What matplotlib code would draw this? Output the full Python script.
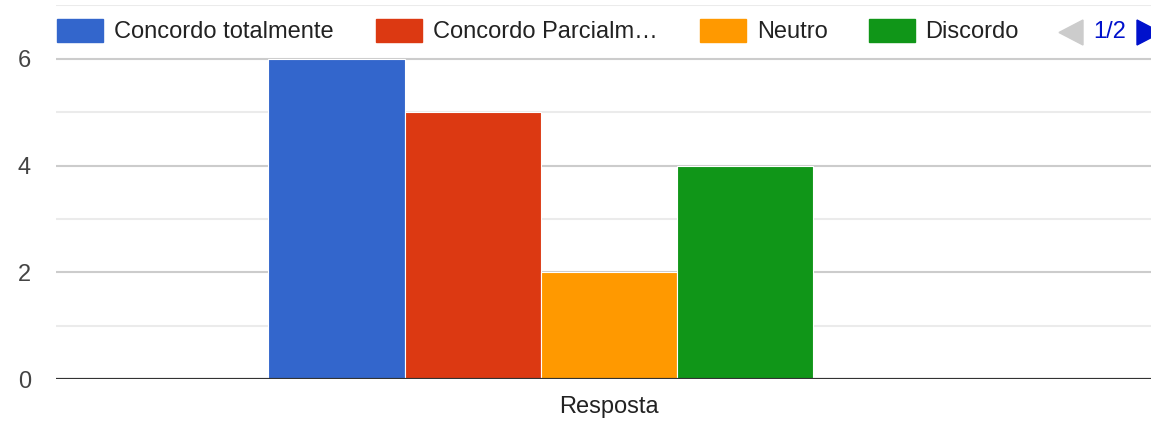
import matplotlib.pyplot as plt
from matplotlib.patches import Rectangle, Polygon

plt.rcParams['font.family'] = ['Liberation Sans', 'DejaVu Sans']

# data
category = ['Resposta']
series = ['Concordo totalmente', 'Concordo Parcialmente', 'Neutro', 'Discordo', 'Discordo totalmente']
values = [6, 5, 2, 4, 0]
colors = ['#3366cc', '#dc3912', '#ff9900', '#109618', '#990099']
legend_labels = ['Concordo totalmente', 'Concordo Parcialm\u2026', 'Neutro', 'Discordo']

fig = plt.figure(figsize=(11.51, 4.24), dpi=100)
ax = fig.add_axes([56 / 1151, 1 - 379.3 / 424, 1 - 56 / 1151, (379.3 - 5.3) / 424])

w = 0.1244
n = len(series)
for i, (s, v, c) in enumerate(zip(series, values, colors)):
    ax.bar(0 + (i - (n - 1) / 2) * w, v, width=w, color=c, edgecolor='white',
           linewidth=0.8, zorder=3)

ax.set_xlim(-0.505, 0.495)
ax.set_ylim(0, 7)

# gridlines
for y in range(1, 8):
    col = '#cccccc' if y % 2 == 0 else '#ebebeb'
    ax.axhline(y, color=col, lw=1.5, zorder=1)
ax.axhline(0, color='#333333', lw=2.3, zorder=4)

ax.set_yticks([0, 2, 4, 6])
ax.set_yticklabels(['0', '2', '4', '6'])
ax.set_xticks([0])
ax.set_xticklabels(category)
ax.tick_params(axis='y', length=0, pad=18, labelsize=17, labelcolor='#444444')
ax.tick_params(axis='x', length=0, pad=12, labelsize=17, labelcolor='#222222')
for sp in ax.spines.values():
    sp.set_visible(False)

# legend drawn in pixel coords
W, H = 1151, 424
box_x = [57, 376, 700, 869]
text_x = [114, 433, 757, 925]
for bx, tx, lab, c in zip(box_x, text_x, legend_labels, colors):
    fig.patches.append(Rectangle((bx / W, 1 - 42 / H), 46 / W, 23 / H,
                                 transform=fig.transFigure, color=c))
    fig.text(tx / W, 1 - 32.5 / H, lab, fontsize=17, color='#222222',
             va='center', ha='left')

fig.patches.append(Polygon([(1083 / W, 1 - 20 / H), (1083 / W, 1 - 45 / H), (1059 / W, 1 - 32.5 / H)],
                           closed=True, transform=fig.transFigure, color='#cccccc'))
fig.text(1093 / W, 1 - 32.5 / H, '1/2', fontsize=17, color='#0011cc', va='center', ha='left')
fig.patches.append(Polygon([(1137 / W, 1 - 20 / H), (1137 / W, 1 - 45 / H), (1161 / W, 1 - 32.5 / H)],
                           closed=True, transform=fig.transFigure, color='#0011cc'))

plt.savefig('out.png', dpi=100)
